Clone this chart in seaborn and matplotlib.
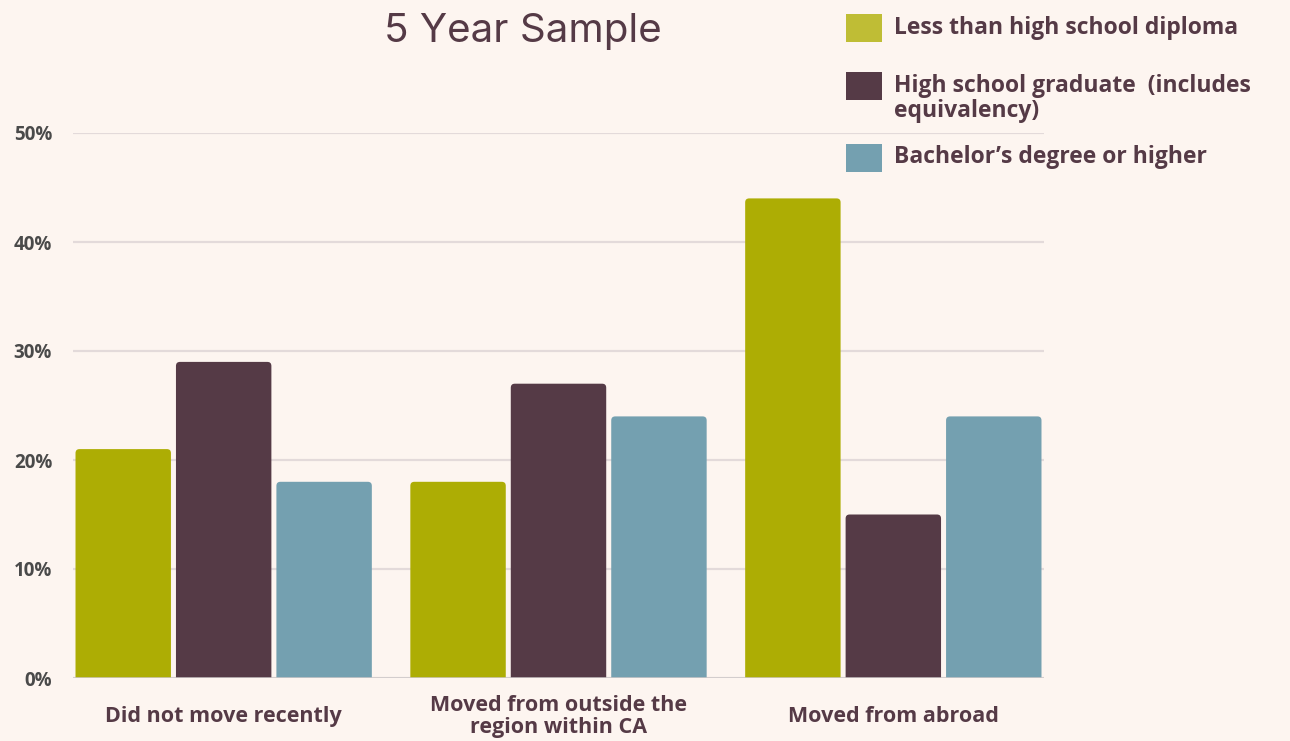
import matplotlib
matplotlib.use("Agg")
import matplotlib.pyplot as plt
import matplotlib.patches as mpatches
import seaborn as sns
import pandas as pd
from matplotlib.ticker import FuncFormatter

# Mobility categories and education-level series (share of population, %)
categories = ["Did not move recently",
              "Moved from outside the\nregion within CA",
              "Moved from abroad"]
series = ["Less than high school diploma",
          "High school graduate  (includes\nequivalency)",
          "Bachelor\u2019s degree or higher"]
less_than_hs = [21, 18, 44]
hs_graduate = [29, 27, 15]
bachelors_plus = [18, 24, 24]
y_ticks = [0, 10, 20, 30, 40, 50]

colors = ["#adad04", "#553a46", "#74a0b0"]
legend_colors = ["#bfbd35", "#553a46", "#74a0b0"]
bg = "#fdf5f0"
text_dark = "#553a46"

df = pd.DataFrame({
    "category": categories * 3,
    "education": [series[0]] * 3 + [series[1]] * 3 + [series[2]] * 3,
    "value": less_than_hs + hs_graduate + bachelors_plus,
})

sns.set_theme(style="white")
plt.rcParams["font.family"] = ["Open Sans", "DejaVu Sans"]

W, H = 1290, 741
fig = plt.figure(figsize=(W / 100, H / 100), dpi=100, facecolor=bg)
ax = fig.add_axes([73 / W, 1 - 678 / H, (1044 - 73) / W, (678 - 133) / H])
ax.set_facecolor(bg)

sns.barplot(data=df, x="category", y="value", hue="education",
            order=categories, hue_order=series, palette=colors,
            width=0.9, gap=0.05, saturation=1, ax=ax, legend=False,
            zorder=3, edgecolor="none")

ax.set_xlim(-0.45, 2.45)
ax.set_ylim(0, 50)

# Give each bar slightly rounded top corners (bottom corners are hidden below 0)
ax_w_px = 1044 - 73
ax_h_px = 678 - 133
x_per_px = 2.9 / ax_w_px
y_per_px = 50 / ax_h_px
radius_px = 4
for bar in list(ax.patches):
    x0, w = bar.get_x(), bar.get_width()
    h = bar.get_height()
    if h <= 0:
        continue
    drop = radius_px * y_per_px
    rounded = mpatches.FancyBboxPatch(
        (x0, -drop), w, h + drop,
        boxstyle=f"round,pad=0,rounding_size={radius_px * x_per_px}",
        mutation_aspect=y_per_px / x_per_px,
        facecolor=bar.get_facecolor(), edgecolor="none", zorder=3)
    ax.add_patch(rounded)
    bar.set_visible(False)

ax.set_yticks(y_ticks)
ax.yaxis.set_major_formatter(FuncFormatter(lambda v, p: f"{int(v)}%"))
ax.grid(axis="y", color="#e3dada", linewidth=1.6, zorder=0)
ax.axhline(0, color="#cfcaca", linewidth=1.8, zorder=4)
for s in ax.spines.values():
    s.set_visible(False)
ax.set_xlabel("")
ax.set_ylabel("")
ax.tick_params(axis="y", length=0, pad=15, labelsize=13.5, labelcolor="#4a4a4a")
ax.tick_params(axis="x", length=0, pad=28, labelsize=15.5, labelcolor=text_dark)
for lbl in ax.get_yticklabels():
    lbl.set_fontweight("bold")
for lbl in ax.get_xticklabels():
    lbl.set_fontweight("bold")
    lbl.set_linespacing(1.05)
    lbl.set_va("center")

fig.text(523 / W, 1 - 32 / H, "5 Year Sample", ha="center", va="center",
         fontsize=29, color=text_dark, family=["Inter", "DejaVu Sans"])

# Legend: colour swatches with bold labels to the right of the plot
swatch_tops = [14, 72, 144]
label_centers = [28, 98.5, 157]
for c, top, lab, yc in zip(legend_colors, swatch_tops, series, label_centers):
    fig.patches.append(mpatches.Rectangle(
        (846 / W, 1 - (top + 28) / H), 36 / W, 28 / H,
        transform=fig.transFigure, facecolor=c, edgecolor="none"))
    fig.text(894 / W, 1 - yc / H, lab, ha="left", va="center",
             fontsize=16.5, fontweight="bold", color=text_dark,
             linespacing=1.05)

fig.savefig("out.png", dpi=100, facecolor=bg)
